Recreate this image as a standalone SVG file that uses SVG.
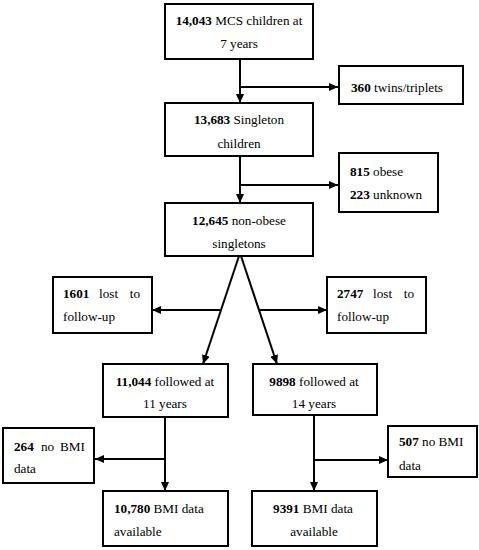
<svg xmlns="http://www.w3.org/2000/svg" width="479" height="550" viewBox="0 0 479 550">
<style>
.box{fill:#fff;stroke:#000;stroke-width:2}
.t{font-family:'Liberation Serif','DejaVu Serif',serif;font-size:13.2px;fill:#000}
.c{text-anchor:middle}
.e{text-anchor:end}
.b{font-weight:bold}
.ln{stroke:#000;stroke-width:2;fill:none}
</style>
<defs>
<marker id="ah" markerUnits="userSpaceOnUse" markerWidth="10" markerHeight="8" refX="9" refY="4" orient="auto">
<path d="M0,0 L9,4 L0,8 z" fill="#000"/>
</marker>
</defs>
<rect width="479" height="550" fill="#fff"/>
<g id="connectors">
<path class="ln" d="M240,59 V103" marker-end="url(#ah)"/>
<path class="ln" d="M240,87 H338" marker-end="url(#ah)"/>
<path class="ln" d="M240,156 V203" marker-end="url(#ah)"/>
<path class="ln" d="M240,185 H338" marker-end="url(#ah)"/>
<path class="ln" d="M239,256 L203,364" marker-end="url(#ah)"/>
<path class="ln" d="M241,256 L277,364" marker-end="url(#ah)"/>
<path class="ln" d="M222,310 H152" marker-end="url(#ah)"/>
<path class="ln" d="M258,310 H327" marker-end="url(#ah)"/>
<path class="ln" d="M165,417 V491" marker-end="url(#ah)"/>
<path class="ln" d="M165,459 H95" marker-end="url(#ah)"/>
<path class="ln" d="M314,415 V491" marker-end="url(#ah)"/>
<path class="ln" d="M314,460 H388" marker-end="url(#ah)"/>
</g>
<g id="n1"><rect class="box" x="165" y="4" width="148" height="55"/>
<text class="t c" x="239" y="25"><tspan class="b">14,043</tspan> MCS children at</text>
<text class="t c" x="239" y="48">7 years</text></g>
<g id="n2"><rect class="box" x="339" y="66" width="124" height="38"/>
<text class="t" x="351" y="92"><tspan class="b">360</tspan> twins/triplets</text></g>
<g id="n3"><rect class="box" x="165" y="103" width="148" height="53"/>
<text class="t c" x="239" y="124"><tspan class="b">13,683</tspan> Singleton</text>
<text class="t c" x="239" y="148">children</text></g>
<g id="n4"><rect class="box" x="339" y="153" width="99" height="59"/>
<text class="t" x="350" y="176"><tspan class="b">815</tspan> obese</text>
<text class="t" x="350" y="199"><tspan class="b">223</tspan> unknown</text></g>
<g id="n5"><rect class="box" x="165" y="203" width="148" height="53"/>
<text class="t c" x="239" y="225"><tspan class="b">12,645</tspan> non-obese</text>
<text class="t c" x="239" y="248">singletons</text></g>
<g id="n6"><rect class="box" x="53" y="277" width="99" height="56"/>
<text class="t b" x="63" y="298">1601</text><text class="t" x="99" y="298">lost</text><text class="t e" x="140" y="298">to</text>
<text class="t" x="63" y="321">follow-up</text></g>
<g id="n7"><rect class="box" x="327" y="277" width="99" height="56"/>
<text class="t b" x="337" y="298">2747</text><text class="t" x="373" y="298">lost</text><text class="t e" x="414" y="298">to</text>
<text class="t" x="337" y="321">follow-up</text></g>
<g id="n8"><rect class="box" x="103" y="364" width="125" height="53"/>
<text class="t c" x="165" y="386"><tspan class="b">11,044</tspan> followed at</text>
<text class="t c" x="165" y="408">11 years</text></g>
<g id="n9"><rect class="box" x="253" y="364" width="124" height="51"/>
<text class="t c" x="314" y="386"><tspan class="b">9898</tspan> followed at</text>
<text class="t c" x="314" y="408">14 years</text></g>
<g id="n10"><rect class="box" x="3" y="428" width="91" height="55"/>
<text class="t b" x="14" y="451">264</text><text class="t" x="41" y="451">no</text><text class="t e" x="85" y="451">BMI</text>
<text class="t" x="14" y="473">data</text></g>
<g id="n11"><rect class="box" x="388" y="426" width="89" height="51"/>
<text class="t" x="399" y="446"><tspan class="b">507</tspan> no BMI</text>
<text class="t" x="399" y="470">data</text></g>
<g id="n12"><rect class="box" x="103" y="491" width="125" height="55"/>
<text class="t" x="114" y="513"><tspan class="b">10,780</tspan> BMI data</text>
<text class="t" x="114" y="536">available</text></g>
<g id="n13"><rect class="box" x="252" y="491" width="125" height="55"/>
<text class="t c" x="313" y="513"><tspan class="b">9391</tspan> BMI data</text>
<text class="t c" x="314" y="536">available</text></g>
</svg>
